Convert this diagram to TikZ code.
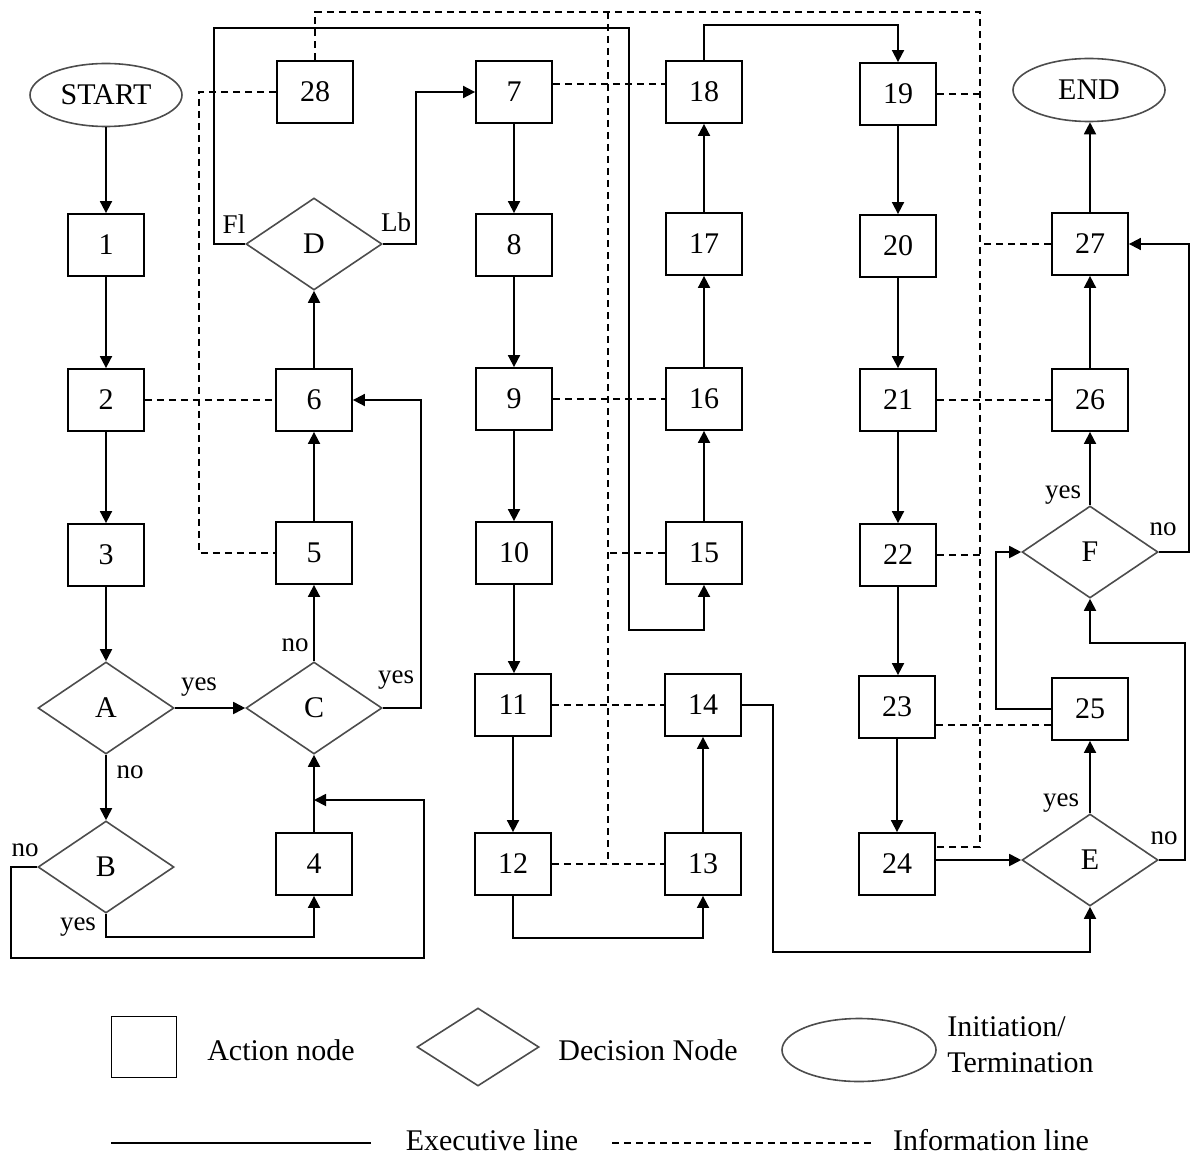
\documentclass[tikz,border=0pt]{standalone}
\usepackage{fontspec}
\setmainfont{Liberation Serif}
\usetikzlibrary{shapes.geometric,arrows.meta}
\begin{document}
\begin{tikzpicture}[x=0.5pt,y=-0.5pt,
  act/.style={draw, line width=0.9pt, minimum width=38pt, minimum height=31pt, inner sep=0pt, font=\fontsize{15}{18}\selectfont},
  dec/.style={draw=black!70, line width=0.8pt, diamond, minimum width=68pt, minimum height=46pt, inner sep=0pt, font=\fontsize{15}{18}\selectfont},
  term/.style={draw=black!70, line width=0.8pt, ellipse, minimum width=76pt, minimum height=31.5pt, inner sep=0pt, font=\fontsize{15}{18}\selectfont},
  exe/.style={line width=0.9pt, -{Triangle[length=6pt,width=6pt]}},
  exeline/.style={line width=0.9pt},
  info/.style={line width=0.8pt, dash pattern=on 3.5pt off 2.5pt},
  lab/.style={font=\fontsize{13.5}{16}\selectfont, inner sep=0pt},
  legtxt/.style={font=\fontsize{15}{18}\selectfont, inner sep=0pt},
]
\useasboundingbox (0,0) rectangle (1192,1155);

% column 1
\node[term] (start) at (106,95) {START};
\node[act] (n1) at (106,245) {1};
\node[act] (n2) at (106,400) {2};
\node[act] (n3) at (106,555) {3};
\node[dec] (A) at (106,708) {A};
\node[dec] (B) at (106,867) {B};
% column 2
\node[act] (n28) at (315,92) {28};
\node[dec] (D) at (314,244) {D};
\node[act] (n6) at (314,400) {6};
\node[act] (n5) at (314,553) {5};
\node[dec] (C) at (314,708) {C};
\node[act] (n4) at (314,864) {4};
% column 3
\node[act] (n7) at (514,92) {7};
\node[act] (n8) at (514,245) {8};
\node[act] (n9) at (514,399) {9};
\node[act] (n10) at (514,553) {10};
\node[act] (n11) at (513,705) {11};
\node[act] (n12) at (513,864) {12};
% column 4
\node[act] (n18) at (704,92) {18};
\node[act] (n17) at (704,244) {17};
\node[act] (n16) at (704,399) {16};
\node[act] (n15) at (704,553) {15};
\node[act] (n14) at (703,705) {14};
\node[act] (n13) at (703,864) {13};
% column 5
\node[act] (n19) at (898,94) {19};
\node[act] (n20) at (898,246) {20};
\node[act] (n21) at (898,400) {21};
\node[act] (n22) at (898,555) {22};
\node[act] (n23) at (897,707) {23};
\node[act] (n24) at (897,864) {24};
% column 6
\node[term] (end) at (1089,90) {END};
\node[act] (n27) at (1090,244) {27};
\node[act] (n26) at (1090,400) {26};
\node[dec] (F) at (1090,552) {F};
\node[act] (n25) at (1090,709) {25};
\node[dec] (E) at (1090,860) {E};

% helper coordinates
\coordinate (tr) at (980,12);
\coordinate (vtop) at (608,12);
\coordinate (vbot) at (608,864);
\coordinate (j4) at (314,800);

% executive lines
\draw[exe] (start) -- (n1);
\draw[exe] (n1) -- (n2);
\draw[exe] (n2) -- (n3);
\draw[exe] (n3) -- (A);
\draw[exe] (A) -- (B);
\draw[exe] (A) -- (C);
\draw[exe] (B.south) -- (106,937) -| (n4.south);
\draw[exe] (B.west) -- (11,867) |- (424,958) |- (j4);
\draw[exe] (n4) -- (C);
\draw[exe] (C) -- (n5);
\draw[exe] (C.east) -- (421,708) |- (n6.east);
\draw[exe] (n5) -- (n6);
\draw[exe] (n6) -- (D);
\draw[exe] (D.west) -| (214,28) -| (629,630) -| (n15.south);
\draw[exe] (D.east) -- (416,244) |- (n7.west);
\draw[exe] (n7) -- (n8);
\draw[exe] (n8) -- (n9);
\draw[exe] (n9) -- (n10);
\draw[exe] (n10.south) -- (n10.south |- n11.north);
\draw[exe] (n11) -- (n12);
\draw[exe] (n12.south) -- ++(0,42) -| (n13.south);
\draw[exe] (n13) -- (n14);
\draw[exe] (n14.east) -| (773,952) -| (E.south);
\draw[exe] (n15) -- (n16);
\draw[exe] (n16) -- (n17);
\draw[exe] (n17) -- (n18);
\draw[exe] (n18.north) -- ++(0,-35) -| (n19.north);
\draw[exe] (n19) -- (n20);
\draw[exe] (n20) -- (n21);
\draw[exe] (n21) -- (n22);
\draw[exe] (n22.south) -- (n22.south |- n23.north);
\draw[exe] (n23) -- (n24);
\draw[exe] (n24.east |- E.west) -- (E.west);
\draw[exe] (E) -- (n25);
\draw[exe] (E.east) -| (1185,643) -| (F.south);
\draw[exe] (n25.west) -- ++(-55,0) |- (F.west);
\draw[exe] (F) -- (n26);
\draw[exe] (F.east) -- ++(30,0) |- (n27.east);
\draw[exe] (n26) -- (n27);
\draw[exe] (n27.north) -- (n27.north |- end.south);

% information lines
\draw[info] (n28.north) -- (n28.north |- tr) -- (tr) -- (980,847) -- ([yshift=8.5pt]n24.east);
\draw[info] (n28.west) -| (199,553) -- (n5.west);
\draw[info] (n2.east) -- (n6.west);
\draw[info] (vtop) -- (vbot);
\draw[info] ([yshift=4pt]n7.east) -- ([yshift=4pt]n18.west);
\draw[info] (n9.east) -- (n16.west);
\draw[info] (n15.west) -- (n15.west -| vtop);
\draw[info] (n11.east) -- (n14.west);
\draw[info] (n12.east) -- (n13.west);
\draw[info] (n19.east) -- (n19.east -| tr);
\draw[info] (n27.west) -- (n27.west -| tr);
\draw[info] (n21.east) -- (n26.west);
\draw[info] (n22.east) -- (n22.east -| tr);
\draw[info] ([yshift=-9pt]n23.east) -- ([yshift=-9pt]n23.east -| n25.west);

% labels
\node[lab] (lAno) at (130,772) {no};
\node[lab] (lAyes) at (199,687) {yes};
\node[lab] (lBno) at (25,850) {no};
\node[lab] (lByes) at (78,927) {yes};
\node[lab] (lCno) at (295,645) {no};
\node[lab] (lCyes) at (396,680) {yes};
\node[lab] (lDfl) at (234,224) {Fl};
\node[lab] (lDlb) at (396,222) {Lb};
\node[lab] (lFyes) at (1063,495) {yes};
\node[lab] (lFno) at (1163,529) {no};
\node[lab] (lEyes) at (1061,803) {yes};
\node[lab] (lEno) at (1164,838) {no};

% legend
\node[draw, line width=0.9pt, minimum width=32.5pt, minimum height=30.5pt, inner sep=0pt] (lgact) at (144,1047) {};
\node[legtxt] (lgacttxt) at (281,1050) {Action node};
\node[dec, minimum width=61pt, minimum height=39pt] (lgdec) at (478,1047) {};
\node[legtxt] (lgdectxt) at (648,1050) {Decision Node};
\node[term, minimum width=77pt, minimum height=31.5pt] (lgterm) at (859,1050) {};
\node[legtxt, align=left, anchor=west] (lgtermtxt) at (947,1045) {Initiation/\\Termination};
\coordinate (le1) at (111,1143);
\coordinate (le2) at (371,1143);
\draw[exeline] (le1) -- (le2);
\node[legtxt] (lgexe) at (492,1140) {Executive line};
\coordinate (li1) at (612,1143);
\coordinate (li2) at (874,1143);
\draw[info] (li1) -- (li2);
\node[legtxt] (lginfo) at (991,1140) {Information line};
\end{tikzpicture}
\end{document}
